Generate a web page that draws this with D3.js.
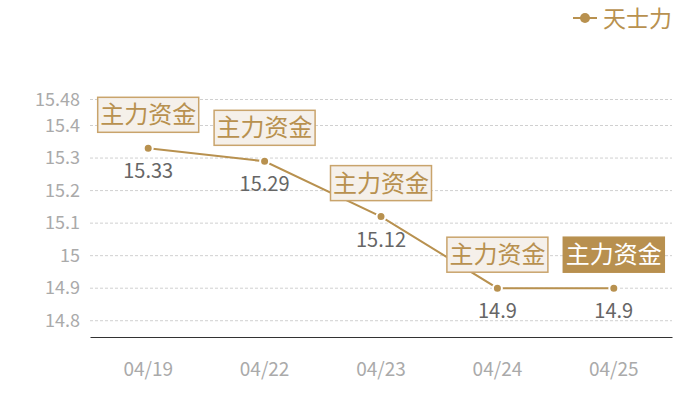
<!DOCTYPE html>
<html><head><meta charset="utf-8">
<script src="https://cdn.jsdelivr.net/npm/d3@7/dist/d3.min.js"></script>
<style>body{margin:0;background:#fff}svg{display:block;font-family:"Noto Sans CJK SC","Noto Sans",sans-serif}</style>
</head><body><svg id="c" width="700" height="400"></svg>
<script>
const categories = ["04/19","04/22","04/23","04/24","04/25"];
const values = [15.33,15.29,15.12,14.9,14.9];
const yTicks = [14.8,14.9,15,15.1,15.2,15.3,15.4,15.48];
const yTickLabels = ["14.8","14.9","15","15.1","15.2","15.3","15.4","15.48"];
const seriesName = "天士力";
const markLabel = "主力资金";
const highlighted = [false,false,false,false,true];

const gold = "#b8914f";
const svg = d3.select("#c");
const x = d3.scaleBand().domain(categories).range([90,672]);
const y = d3.scaleLinear().domain([14.75,15.48]).range([337,99.5]);
const cx = d => x(d) + x.bandwidth()/2;

// grid
svg.append("g").selectAll("line").data(yTicks).join("line")
  .attr("x1",90).attr("x2",672).attr("y1",d=>y(d)).attr("y2",d=>y(d))
  .attr("stroke","#d0d0d0").attr("stroke-dasharray","3,2").attr("stroke-width",1);

// y axis labels
const yAxis = d3.axisLeft(y).tickValues(yTicks).tickFormat((d,i)=>yTickLabels[i]).tickSize(0).tickPadding(10);
const yg = svg.append("g").attr("transform","translate(90,0)").call(yAxis);
yg.select(".domain").remove();
yg.selectAll("text").attr("fill","#aaa").style("font-size","18px").style("font-family","'Noto Sans CJK SC',sans-serif");

// x axis
const xAxis = d3.axisBottom(x).tickSize(0).tickPadding(26);
const xg = svg.append("g").attr("transform","translate(0,337)").call(xAxis);
xg.select(".domain").attr("stroke","#333").attr("stroke-width",1.2);
xg.selectAll("text").attr("fill","#aaa").style("font-size","19px").style("font-family","'Noto Sans CJK SC',sans-serif");

// line
const line = d3.line().x((d,i)=>cx(categories[i])).y(d=>y(d));
svg.append("path").datum(values).attr("d",line).attr("fill","none").attr("stroke",gold).attr("stroke-width",2);
svg.append("g").selectAll("circle").data(values).join("circle")
  .attr("cx",(d,i)=>cx(categories[i])).attr("cy",d=>y(d)).attr("r",4.5)
  .attr("fill",gold).attr("stroke","#fff").attr("stroke-width",2);

// value labels
svg.append("g").selectAll("text").data(values).join("text")
  .attr("x",(d,i)=>cx(categories[i])).attr("y",d=>y(d)+30)
  .attr("text-anchor","middle").attr("fill","#666").style("font-size","20px")
  .text(d=>String(d));

// mark boxes
const bw=101, bh=35;
const mg = svg.append("g").selectAll("g").data(values).join("g")
  .attr("transform",(d,i)=>`translate(${cx(categories[i])-bw/2},${y(d)-16-bh})`);
mg.append("rect").attr("width",bw).attr("height",bh)
  .attr("fill",(d,i)=>highlighted[i]?"#b8904f":"#f5f0ea")
  .attr("stroke",(d,i)=>highlighted[i]?"#b8904f":"#c9a46c").attr("stroke-width",1.5);
mg.append("text").attr("x",bw/2).attr("y",bh/2+8.5).attr("text-anchor","middle")
  .attr("fill",(d,i)=>highlighted[i]?"#fff":"#b8914f").style("font-size","24px").text(markLabel);

// legend
const lg = svg.append("g");
lg.append("line").attr("x1",573).attr("x2",597).attr("y1",18).attr("y2",18).attr("stroke",gold).attr("stroke-width",2);
lg.append("circle").attr("cx",585).attr("cy",18).attr("r",5).attr("fill",gold);
lg.append("text").attr("x",603).attr("y",27).attr("fill",gold).style("font-size","23px").text(seriesName);
</script></body></html>
